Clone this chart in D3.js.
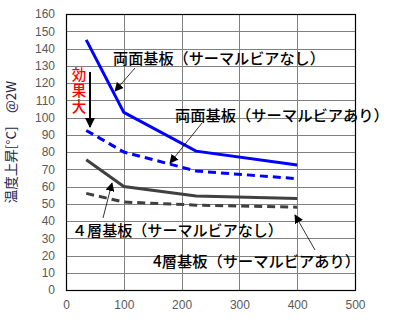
<!DOCTYPE html>
<html>
<head>
<meta charset="utf-8">
<script src="https://cdn.jsdelivr.net/npm/d3@7"></script>
<style>
  html, body { margin: 0; padding: 0; background: #fff; }
  svg { display: block; }
</style>
</head>
<body>
<svg id="chart" width="418" height="322"></svg>
<script>
// Via count / board type vs. temperature rise at 2 W
const xValues = [35, 100, 225, 400];
const doubleNoVia = [145, 103, 80.5, 72.5];
const doubleWithVia = [92.5, 80, 69, 64.5];
const fourNoVia = [75.5, 60, 54.5, 53];
const fourWithVia = [56, 51, 49.2, 48];

const xTicks = [0, 100, 200, 300, 400, 500];
const yTicks = d3.range(0, 161, 10);

const seriesNames = [
  "両面基板（サーマルビアなし）",
  "両面基板（サーマルビアあり）",
  "４層基板（サーマルビアなし）",
  "4層基板（サーマルビアあり）"
];
const yTitle = "温度上昇[°C]　@2W";
const effectLabel = "効果大";

const svg = d3.select("#chart");
const plotLeft = 66, plotRight = 355, plotTop = 14, plotBottom = 290;

const x = d3.scaleLinear().domain([0, 500]).range([plotLeft, plotRight]);
const y = d3.scaleLinear().domain([0, 160]).range([plotBottom, plotTop]);

// grid
const grid = svg.append("g");
grid.selectAll("line.h").data(yTicks.filter(d => d > 0 && d < 160)).join("line")
  .attr("x1", plotLeft).attr("x2", plotRight)
  .attr("y1", d => Math.round(y(d)) + 0.5).attr("y2", d => Math.round(y(d)) + 0.5)
  .attr("stroke", "#808080").attr("stroke-width", 1);
grid.selectAll("line.v").data(xTicks.filter(d => d > 0 && d < 500)).join("line")
  .attr("y1", plotTop).attr("y2", plotBottom)
  .attr("x1", d => Math.round(x(d)) + 0.5).attr("x2", d => Math.round(x(d)) + 0.5)
  .attr("stroke", "#808080").attr("stroke-width", 1);

// frame
svg.append("rect").attr("x", plotLeft + 0.5).attr("y", plotTop + 0.5)
  .attr("width", plotRight - plotLeft).attr("height", plotBottom - plotTop)
  .attr("fill", "none").attr("stroke", "#000").attr("stroke-width", 1.2);

// axes labels
const yAxis = d3.axisLeft(y).tickValues(yTicks).tickSize(0).tickPadding(11);
const gy = svg.append("g").attr("transform", `translate(${plotLeft},0)`).call(yAxis);
const xAxis = d3.axisBottom(x).tickValues(xTicks).tickSize(0).tickPadding(10);
const gx = svg.append("g").attr("transform", `translate(0,${plotBottom})`).call(xAxis);
[gx, gy].forEach(g => {
  g.select(".domain").remove();
  g.selectAll("text").attr("font-family", "Liberation Sans, Arial, sans-serif")
    .attr("font-size", 12).attr("fill", "#595959");
});

svg.append("text")
  .attr("transform", "translate(16,142) rotate(-90)")
  .attr("text-anchor", "middle")
  .attr("font-family", "Noto Sans CJK JP, sans-serif")
  .attr("font-size", 13.5)
  .attr("fill", "#26264a")
  .text(yTitle);

// series
const line = d3.line().x(d => x(d[0])).y(d => y(d[1]));
const series = [
  { v: doubleNoVia, color: "#0000ff", dash: null },
  { v: doubleWithVia, color: "#0000ff", dash: "8,5" },
  { v: fourNoVia, color: "#404040", dash: null },
  { v: fourWithVia, color: "#404040", dash: "8,5" }
];
series.forEach(s => {
  svg.append("path")
    .datum(xValues.map((xv, i) => [xv, s.v[i]]))
    .attr("d", line)
    .attr("fill", "none")
    .attr("stroke", s.color)
    .attr("stroke-width", 3)
    .attr("stroke-dasharray", s.dash);
});

// arrowheads
const defs = svg.append("defs");
defs.append("marker").attr("id", "thin").attr("viewBox", "0 0 10 10")
  .attr("refX", 9).attr("refY", 5).attr("markerWidth", 9).attr("markerHeight", 9)
  .attr("markerUnits", "userSpaceOnUse").attr("orient", "auto")
  .append("path").attr("d", "M0,0 L10,5 L0,10 Z").attr("fill", "#000");
defs.append("marker").attr("id", "thick").attr("viewBox", "0 0 10 10")
  .attr("refX", 9).attr("refY", 5).attr("markerWidth", 10).attr("markerHeight", 10)
  .attr("markerUnits", "userSpaceOnUse").attr("orient", "auto")
  .append("path").attr("d", "M0,0 L10,5 L0,10 Z").attr("fill", "#000");

// callouts: label position, target width and arrow pointing at the series
const callouts = [
  { text: seriesNames[0], tx: 113, ty: 64, w: 212, from: [135, 68], to: [115, 91] },
  { text: seriesNames[1], tx: 175, ty: 121, w: 214, from: [202, 123], to: [170, 163] },
  { text: seriesNames[2], tx: 72, ty: 236, w: 211, from: [103, 218], to: [112, 183] },
  { text: seriesNames[3], tx: 153, ty: 267, w: 207, from: [315, 250], to: [295, 215] }
];
callouts.forEach(c => {
  svg.append("line")
    .attr("x1", c.from[0]).attr("y1", c.from[1])
    .attr("x2", c.to[0]).attr("y2", c.to[1])
    .attr("stroke", "#000").attr("stroke-width", 0.8)
    .attr("marker-end", "url(#thin)");
  const t = svg.append("text")
    .attr("x", c.tx).attr("y", c.ty)
    .attr("font-family", "Noto Sans CJK JP, sans-serif")
    .attr("font-size", 15).attr("font-weight", 500)
    .attr("fill", "#000")
    .text(c.text);
  // size the label so it spans its intended width
  const len = t.node().getComputedTextLength();
  t.attr("font-size", 15 * c.w / len);
});

// "effect is large" note
svg.append("line").attr("x1", 90).attr("y1", 72).attr("x2", 90).attr("y2", 127)
  .attr("stroke", "#000").attr("stroke-width", 2)
  .attr("marker-end", "url(#thick)");
svg.append("text")
  .attr("x", 79).attr("y", 67)
  .attr("writing-mode", "vertical-rl")
  .attr("letter-spacing", 1.5)
  .attr("font-family", "Noto Sans CJK JP, sans-serif")
  .attr("font-size", 14.5).attr("font-weight", 500)
  .attr("fill", "#ff0000")
  .text(effectLabel);
</script>
</body>
</html>
